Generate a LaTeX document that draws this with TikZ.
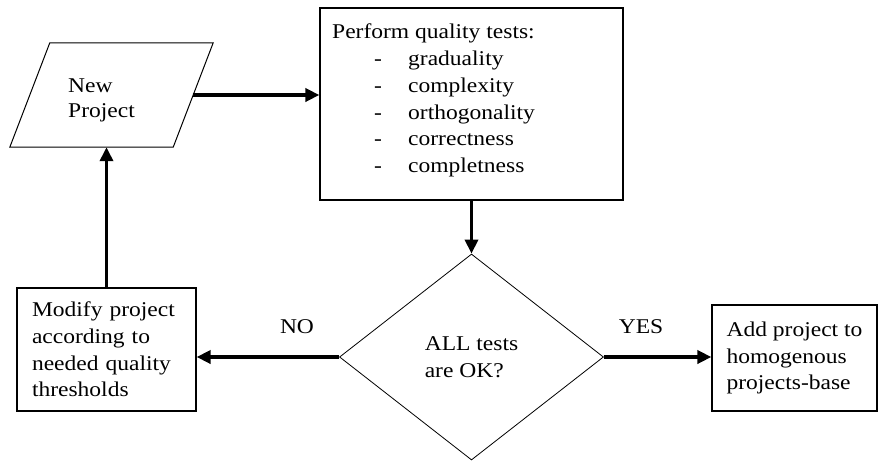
\documentclass[tikz,border=0pt]{standalone}
\usepackage{fontspec}
\setmainfont{Liberation Serif}[FakeStretch=1.12]
\usetikzlibrary{shapes.geometric,arrows.meta,calc}
\begin{document}
\begin{tikzpicture}[x=1pt,y=-1pt,
  txt/.style={font=\fontsize{21}{26.7}\selectfont},
  box/.style={draw, line width=1.2pt, txt, align=left, inner ysep=0pt},
  arr/.style={line width=3.6pt, -{Triangle[length=14pt,width=13pt]}},
  decision/.style={diamond, draw, line width=0.8pt, minimum width=264pt, minimum height=206pt, inner sep=0pt, txt, align=left},
  lbl/.style={txt, anchor=base, inner sep=0pt}]
\useasboundingbox[fill=white] (0,0) rectangle (878,461);

% New Project (parallelogram)
\node[minimum width=162pt, minimum height=104pt, inner sep=0pt] (np) at (111.5,95) {};
\draw[line width=1pt] ($(np.north west)+(19.5,0)$) -- ($(np.north east)+(20.5,0)$)
  -- ($(np.south east)+(-19.5,0)$) -- ($(np.south west)+(-20.5,0)$) -- cycle;
\node[align=left, anchor=north west, inner sep=0pt, font=\fontsize{21}{24.5}\selectfont] (npt) at (68,79) {New\\Project};

% Perform quality tests
\node[draw, line width=1.2pt, minimum width=303pt, minimum height=192pt, inner sep=0pt] (qt) at (471.5,104) {};
\node[txt, align=left, anchor=north west, inner sep=0pt] (qtt) at (332,24)
  {Perform quality tests:\\
   \hspace*{42pt}\makebox[34pt][l]{-}graduality\\
   \hspace*{42pt}\makebox[34pt][l]{-}complexity\\
   \hspace*{42pt}\makebox[34pt][l]{-}orthogonality\\
   \hspace*{42pt}\makebox[34pt][l]{-}correctness\\
   \hspace*{42pt}\makebox[34pt][l]{-}completness};

% Decision
\node[decision] (dia) at (471.5,357) {ALL tests\\are OK?};

% Modify project
\node[box, text width=149pt, inner xsep=15pt, minimum height=123pt] (mod) at (106.5,349.5)
  {Modify project\\according to\\needed quality\\thresholds};

% Add project
\node[box, minimum width=165pt, inner xsep=0pt, minimum height=106pt] (add) at (794.5,358)
  {Add project to\\homogenous\\projects-base};

% Labels
\node[lbl] (no) at (297,333) {NO};
\node[lbl] (yes) at (641,333) {YES};

% Connectors
\draw[arr] (np.east) -- (np.east -| qt.west);
\draw[arr] (qt.south) -- (dia.north);
\draw[arr] (dia.west) -- (dia.west -| mod.east);
\draw[arr] (dia.east) -- (dia.east -| add.west);
\draw[arr] (mod.north) -- (mod.north |- np.south);
\end{tikzpicture}
\end{document}
